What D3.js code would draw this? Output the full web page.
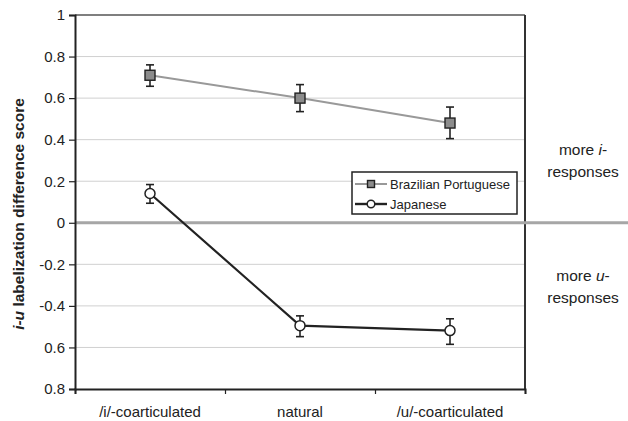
<!DOCTYPE html>
<html>
<head>
<meta charset="utf-8">
<script src="https://cdn.jsdelivr.net/npm/d3@7"></script>
<style>
  html, body { margin: 0; padding: 0; background: #fff; }
  svg { display: block; font-family: "Liberation Sans", Arial, sans-serif; }
</style>
</head>
<body>
<svg id="chart" width="628" height="421"></svg>
<script>
// Conditions along the x axis
const conditions = ["/i/-coarticulated", "natural", "/u/-coarticulated"];

// Mean i-u labelization difference scores with error bar limits
const portugueseMean = [0.71, 0.60, 0.48];
const portugueseHigh = [0.76, 0.665, 0.557];
const portugueseLow  = [0.657, 0.535, 0.405];

const japaneseMean = [0.141, -0.495, -0.519];
const japaneseHigh = [0.184, -0.448, -0.462];
const japaneseLow  = [0.094, -0.548, -0.585];

// Y tick values and the labels printed beside them
const yTickValues = [1, 0.8, 0.6, 0.4, 0.2, 0, -0.2, -0.4, -0.6, -0.8];
const yTickLabels = ["1", "0.8", "0.6", "0.4", "0.2", "0", "-0.2", "-0.4", "0.6", "0.8"];

const seriesNames = ["Brazilian Portuguese", "Japanese"];

const svg = d3.select("#chart");
const plotLeft = 75, plotRight = 525, plotTop = 15, plotBottom = 389;
const ink = "#222";

const x = d3.scaleBand().domain(conditions).range([plotLeft, plotRight]).padding(0);
const y = d3.scaleLinear().domain([-0.8, 1]).range([plotBottom, plotTop]);
const cx = c => x(c) + x.bandwidth() / 2;

// Horizontal gridlines
svg.append("g").selectAll("line")
  .data(yTickValues.filter(v => v !== 0 && v !== 1 && v !== -0.8))
  .join("line")
  .attr("x1", plotLeft).attr("x2", plotRight)
  .attr("y1", d => y(d)).attr("y2", d => y(d))
  .attr("stroke", "#d0d0d0").attr("stroke-width", 1);

// Plot frame (top and right)
svg.append("line").attr("x1", plotLeft).attr("x2", plotRight)
  .attr("y1", y(1)).attr("y2", y(1))
  .attr("stroke", "#555").attr("stroke-width", 1.5);
svg.append("line").attr("x1", plotRight).attr("x2", plotRight)
  .attr("y1", y(1)).attr("y2", plotBottom)
  .attr("stroke", "#333").attr("stroke-width", 2);

// Zero reference line running across to the margin
svg.append("line").attr("x1", plotLeft).attr("x2", 628)
  .attr("y1", y(0)).attr("y2", y(0))
  .attr("stroke", "#a6a6a6").attr("stroke-width", 3);

// Y axis
const yAxis = d3.axisLeft(y)
  .tickValues(yTickValues)
  .tickSize(6)
  .tickFormat((d, i) => yTickLabels[i]);
const gy = svg.append("g").attr("transform", `translate(${plotLeft},0)`).call(yAxis);
gy.select(".domain").attr("stroke", ink).attr("stroke-width", 2);
gy.selectAll(".tick line").attr("stroke", ink).attr("stroke-width", 1.2);
gy.selectAll(".tick text").attr("font-size", 15).attr("fill", ink)
  .attr("font-family", "Liberation Sans, Arial, sans-serif").attr("x", -10);

// X axis: ticks at band boundaries, labels centred in bands
const xLin = d3.scaleLinear().domain([0, conditions.length]).range([plotLeft, plotRight]);
const gx = svg.append("g").attr("transform", `translate(0,${plotBottom})`)
  .call(d3.axisBottom(xLin).tickValues(d3.range(conditions.length + 1)).tickSize(5).tickFormat(""));
gx.select(".domain").attr("stroke", ink).attr("stroke-width", 2);
gx.selectAll(".tick line").attr("stroke", ink).attr("stroke-width", 1.2);

svg.append("g").selectAll("text").data(conditions).join("text")
  .attr("x", d => cx(d)).attr("y", 417)
  .attr("text-anchor", "middle").attr("font-size", 15).attr("fill", ink)
  .text(d => d);

// Y axis title
const title = svg.append("text")
  .attr("transform", `translate(24,${(plotTop + plotBottom) / 2 + 12}) rotate(-90)`)
  .attr("text-anchor", "middle").attr("font-size", 15.5).attr("font-weight", "bold").attr("fill", ink);
title.append("tspan").attr("font-style", "italic").text("i-u");
title.append("tspan").text(" labelization difference score");

// Series drawing
function drawSeries(mean, lo, hi, lineColor, lineWidth, marker) {
  const pts = conditions.map((c, i) => ({ c, m: mean[i], lo: lo[i], hi: hi[i] }));
  svg.append("path").datum(pts)
    .attr("fill", "none").attr("stroke", lineColor).attr("stroke-width", lineWidth)
    .attr("d", d3.line().x(d => cx(d.c)).y(d => y(d.m)));
  const g = svg.append("g");
  g.selectAll("line.eb").data(pts).join("line")
    .attr("x1", d => cx(d.c)).attr("x2", d => cx(d.c))
    .attr("y1", d => y(d.hi)).attr("y2", d => y(d.lo))
    .attr("stroke", ink).attr("stroke-width", 1.6);
  ["hi", "lo"].forEach(k => {
    g.selectAll("line.cap" + k).data(pts).join("line")
      .attr("x1", d => cx(d.c) - 4).attr("x2", d => cx(d.c) + 4)
      .attr("y1", d => y(d[k])).attr("y2", d => y(d[k]))
      .attr("stroke", ink).attr("stroke-width", 1.6);
  });
  pts.forEach(d => marker(g, cx(d.c), y(d.m)));
}

const squareMarker = (g, px, py, s = 10) => g.append("rect")
  .attr("x", px - s / 2).attr("y", py - s / 2).attr("width", s).attr("height", s)
  .attr("fill", "#8c8c8c").attr("stroke", ink).attr("stroke-width", 1.4);
const circleMarker = (g, px, py, r = 5) => g.append("circle")
  .attr("cx", px).attr("cy", py).attr("r", r)
  .attr("fill", "#fff").attr("stroke", ink).attr("stroke-width", 1.5);

drawSeries(portugueseMean, portugueseLow, portugueseHigh, "#999", 2, squareMarker);
drawSeries(japaneseMean, japaneseLow, japaneseHigh, ink, 2.2, circleMarker);

// Legend
const lg = svg.append("g");
lg.append("rect").attr("x", 352).attr("y", 172).attr("width", 165).attr("height", 42)
  .attr("fill", "#fff").attr("stroke", ink).attr("stroke-width", 1.5);
const legendRows = [
  { name: seriesNames[0], color: "#999", w: 2, marker: (g, px, py) => squareMarker(g, px, py, 7) },
  { name: seriesNames[1], color: ink, w: 2.4, marker: (g, px, py) => circleMarker(g, px, py, 3.8) }
];
legendRows.forEach((r, i) => {
  const ly = 184 + i * 20;
  lg.append("line").attr("x1", 355).attr("x2", 387).attr("y1", ly).attr("y2", ly)
    .attr("stroke", r.color).attr("stroke-width", r.w);
  r.marker(lg, 371, ly);
  lg.append("text").attr("x", 390).attr("y", ly + 5).attr("font-size", 13).attr("fill", ink).text(r.name);
});

// Side annotations
function sideNote(yy, letter) {
  const t = svg.append("text").attr("x", 583).attr("y", yy)
    .attr("text-anchor", "middle").attr("font-size", 15.5).attr("fill", ink);
  t.append("tspan").text("more ");
  t.append("tspan").attr("font-style", "italic").text(letter);
  t.append("tspan").text("-");
  svg.append("text").attr("x", 583).attr("y", yy + 22)
    .attr("text-anchor", "middle").attr("font-size", 15.5).attr("fill", ink).text("responses");
}
sideNote(155, "i");
sideNote(281, "u");
</script>
</body>
</html>
